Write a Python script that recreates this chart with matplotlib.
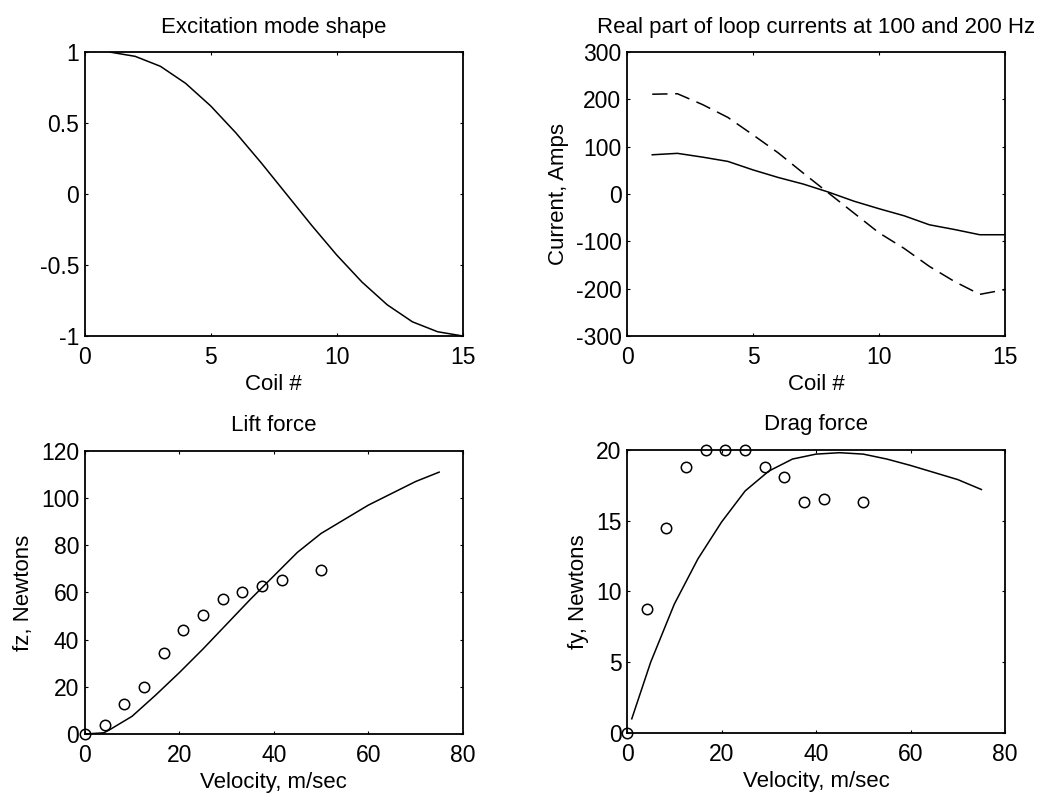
import matplotlib
matplotlib.use("Agg")
import matplotlib.pyplot as plt
from matplotlib.ticker import FuncFormatter

plt.rcParams['font.family'] = ['Liberation Sans', 'DejaVu Sans']
plt.rcParams['axes.unicode_minus'] = False

# --- Data ---
coil = [1, 2, 3, 4, 5, 6, 7, 8, 9, 10, 11, 12, 13, 14, 15]
mode_shape = [1.0, 0.97, 0.90, 0.78, 0.62, 0.43, 0.22, 0.0,
              -0.22, -0.43, -0.62, -0.78, -0.90, -0.97, -1.0]

current_100 = [83, 86, 78, 69, 51, 35, 21, 4, -15, -31, -46, -65, -75, -86, -86]
current_200 = [211, 212, 189, 162, 125, 87, 44, 2, -40, -82, -115, -153, -185, -212, -202]

vel_meas = [0, 4.2, 8.3, 12.5, 16.7, 20.8, 25, 29.2, 33.3, 37.5, 41.7, 50]
lift_meas = [0, 4, 12.7, 19.9, 34.5, 43.9, 50.5, 57.1, 60, 62.9, 65.3, 69.5]
drag_meas = [0, 8.75, 14.5, 18.8, 20, 20, 20, 18.8, 18.1, 16.3, 16.5, 16.3]

vel_lift = [0, 4, 5, 10, 15, 20, 25, 30, 35, 40, 45, 50, 55, 60, 65, 70, 75]
lift_calc = [0, 0.5, 1.5, 7.5, 16.5, 26, 36, 46.5, 57, 67, 77, 85, 91, 97, 102, 107, 111]

vel_drag = [1, 5, 10, 15, 20, 25, 30, 35, 40, 45, 50, 55, 60, 65, 70, 75]
drag_calc = [1.0, 5.0, 9.1, 12.3, 14.9, 17.1, 18.5, 19.35, 19.7, 19.8, 19.7, 19.35, 18.9, 18.4, 17.9, 17.2]

FS = 16
TFS = 16.5
TPAD = 14
XLPAD = 4
YLPAD = 5

fig = plt.figure(figsize=(10.47, 7.93), dpi=100)
fig.patch.set_facecolor('white')

def style(ax):
    ax.tick_params(direction='in', top=True, right=True, length=2.5, width=0.8,
                   labelsize=TFS)
    ax.tick_params(axis='x', pad=7)
    ax.tick_params(axis='y', pad=4)
    for s in ax.spines.values():
        s.set_linewidth(1.3)
        s.set_color('black')
    fmt = FuncFormatter(lambda v, p: '%g' % v)
    ax.xaxis.set_major_formatter(fmt)
    ax.yaxis.set_major_formatter(fmt)

LW = 1.1

# Top-left
ax1 = fig.add_axes([0.081, 0.5763, 0.361, 0.358])
ax1.plot(coil, mode_shape, color='black', lw=LW)
ax1.set_xlim(0, 15)
ax1.set_ylim(-1, 1)
ax1.set_xticks([0, 5, 10, 15])
ax1.set_yticks([-1, -0.5, 0, 0.5, 1])
ax1.set_title('Excitation mode shape', fontsize=FS, pad=TPAD)
ax1.set_xlabel('Coil #', fontsize=FS, labelpad=XLPAD)
style(ax1)

# Top-right
ax2 = fig.add_axes([0.5989, 0.5763, 0.361, 0.358])
ax2.plot(coil, current_100, color='black', lw=LW)
ax2.plot(coil, current_200, color='black', lw=LW, dashes=(10, 5))
ax2.set_xlim(0, 15)
ax2.set_ylim(-300, 300)
ax2.set_xticks([0, 5, 10, 15])
ax2.set_yticks([-300, -200, -100, 0, 100, 200, 300])
ax2.set_title('Real part of loop currents at 100 and 200 Hz', fontsize=FS, pad=TPAD)
ax2.set_xlabel('Coil #', fontsize=FS, labelpad=XLPAD)
ax2.set_ylabel('Current, Amps', fontsize=FS, labelpad=YLPAD)
style(ax2)

# Bottom-left
ax3 = fig.add_axes([0.081, 0.0744, 0.361, 0.357])
ax3.plot(vel_lift, lift_calc, color='black', lw=LW)
ax3.plot(vel_meas, lift_meas, linestyle='none', marker='o', markersize=7.5,
         markerfacecolor='none', markeredgecolor='black', markeredgewidth=1.1,
         clip_on=False)
ax3.set_xlim(0, 80)
ax3.set_ylim(0, 120)
ax3.set_xticks([0, 20, 40, 60, 80])
ax3.set_yticks([0, 20, 40, 60, 80, 100, 120])
ax3.set_title('Lift force', fontsize=FS, pad=TPAD)
ax3.set_xlabel('Velocity, m/sec', fontsize=FS, labelpad=XLPAD)
ax3.set_ylabel('fz, Newtons', fontsize=FS, labelpad=YLPAD)
style(ax3)

# Bottom-right
ax4 = fig.add_axes([0.5989, 0.0757, 0.361, 0.357])
ax4.plot(vel_drag, drag_calc, color='black', lw=LW)
ax4.plot(vel_meas, drag_meas, linestyle='none', marker='o', markersize=7.5,
         markerfacecolor='none', markeredgecolor='black', markeredgewidth=1.1,
         clip_on=False)
ax4.set_xlim(0, 80)
ax4.set_ylim(0, 20)
ax4.set_xticks([0, 20, 40, 60, 80])
ax4.set_yticks([0, 5, 10, 15, 20])
ax4.set_title('Drag force', fontsize=FS, pad=TPAD)
ax4.set_xlabel('Velocity, m/sec', fontsize=FS, labelpad=XLPAD)
ax4.set_ylabel('fy, Newtons', fontsize=FS, labelpad=YLPAD)
style(ax4)

fig.savefig('out.png', dpi=100)
